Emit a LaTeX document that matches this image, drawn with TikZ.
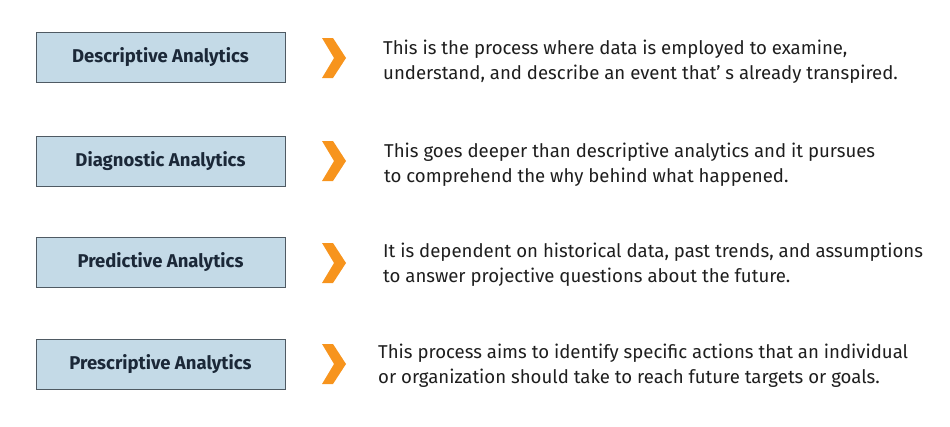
\documentclass[tikz,border=0pt]{standalone}
\usepackage{fontspec}
\setmainfont{Fira Sans}
\definecolor{boxblue}{HTML}{C4DAE7}
\definecolor{boxline}{HTML}{4F5A63}
\definecolor{navy}{HTML}{1B2838}
\definecolor{chevron}{HTML}{F7941D}
\definecolor{bodytext}{HTML}{1E1E1E}
\begin{document}
\begin{tikzpicture}[x=1pt,y=-1pt,
  kind/.style={draw=boxline, fill=boxblue, line width=1pt, minimum width=249pt, minimum height=50pt, inner sep=0pt, font=\fontsize{18.5}{22}\selectfont\bfseries, text=navy},
  desc/.style={anchor=west, align=left, inner sep=0pt, font=\fontsize{18.6}{25}\selectfont, text=bodytext},
  chev/.style={fill=chevron}]
\useasboundingbox (0,0) rectangle (950,426);

\node[kind] (desc) at (160.5,57.5) {Descriptive Analytics};
\node[kind] (diag) at (160.5,161) {Diagnostic Analytics};
\node[kind] (pred) at (160.5,262.5) {Predictive Analytics};
\node[kind] (pres) at (160.5,364) {Prescriptive Analytics};

\coordinate (c1) at (334,58);
\coordinate (c2) at (334,161);
\coordinate (c3) at (334,263);
\coordinate (c4) at (334,364);

\fill[chev, shift={(c1)}] (-12,-20) -- (-1,-20) -- (12,0) -- (-1,20) -- (-12,20) -- (0,0) -- cycle;
\fill[chev, shift={(c2)}] (-12,-20) -- (-1,-20) -- (12,0) -- (-1,20) -- (-12,20) -- (0,0) -- cycle;
\fill[chev, shift={(c3)}] (-12,-20) -- (-1,-20) -- (12,0) -- (-1,20) -- (-12,20) -- (0,0) -- cycle;
\fill[chev, shift={(c4)}] (-12,-20) -- (-1,-20) -- (12,0) -- (-1,20) -- (-12,20) -- (0,0) -- cycle;

\node[desc] (t1) at (383,62) {This is the process where data is employed to examine,\\understand, and describe an event that' s already transpired.};
\node[desc] (t2) at (384,165) {This goes deeper than descriptive analytics and it pursues\\to comprehend the why behind what happened.};
\node[desc] (t3) at (383,265) {It is dependent on historical data, past trends, and assumptions\\to answer projective questions about the future.};
\node[desc] (t4) at (378,366) {This process aims to identify specific actions that an individual\\or organization should take to reach future targets or goals.};
\end{tikzpicture}
\end{document}
